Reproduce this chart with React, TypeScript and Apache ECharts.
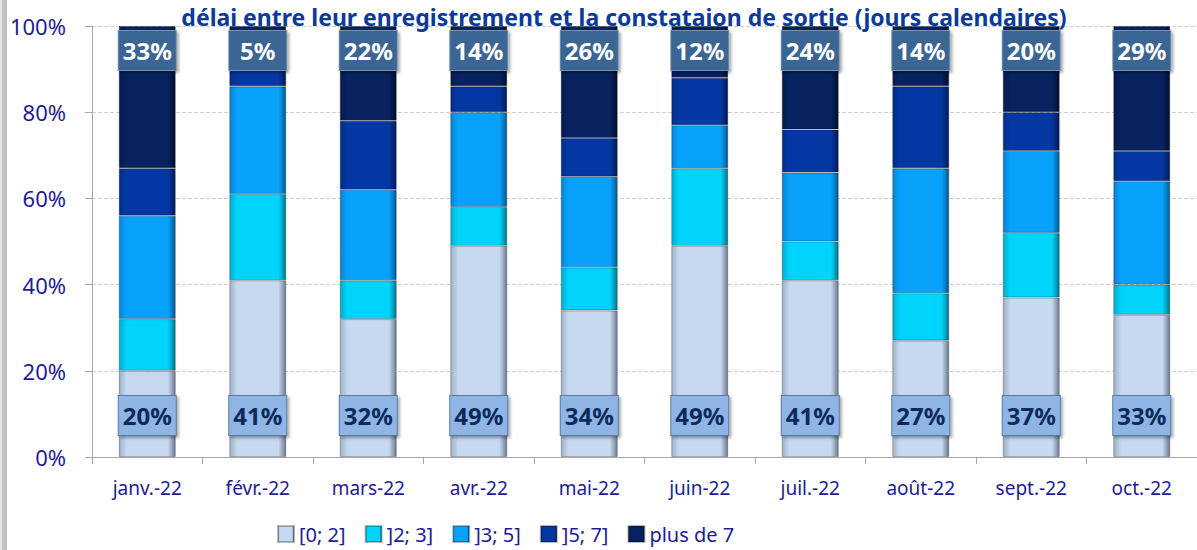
import React, { useEffect, useRef } from "react";
import * as echarts from "echarts";

const categories = ["janv.-22", "févr.-22", "mars-22", "avr.-22", "mai-22", "juin-22", "juil.-22", "août-22", "sept.-22", "oct.-22"];
const seriesNames = ["[0; 2]", "]2; 3]", "]3; 5]", "]5; 7]", "plus de 7"];
const s0to2 = [20, 41, 32, 49, 34, 49, 41, 27, 37, 33];
const s2to3 = [12, 20, 9, 9, 10, 18, 9, 11, 15, 7];
const s3to5 = [24, 25, 21, 22, 21, 10, 16, 29, 19, 24];
const s5to7 = [11, 9, 16, 6, 9, 11, 10, 19, 9, 7];
const sPlus7 = [33, 5, 22, 14, 26, 12, 24, 14, 20, 29];
const yTicks = [0, 20, 40, 60, 80, 100];

const palettes = [
  { l: "#9fb1c9", b: "#c6d9f1", r: "#6c7b90" },
  { l: "#00aed0", b: "#00d4fc", r: "#00788f" },
  { l: "#0585d4", b: "#08a2fd", r: "#035c94" },
  { l: "#032d8a", b: "#0537a3", r: "#021b57" },
  { l: "#061b4e", b: "#08225f", r: "#030f2d" },
];

function grad(p: { l: string; b: string; r: string }) {
  return new echarts.graphic.LinearGradient(0, 0, 1, 0, [
    { offset: 0, color: p.l },
    { offset: 0.13, color: p.b },
    { offset: 0.87, color: p.b },
    { offset: 1, color: p.r },
  ]);
}

const textBlue = "#1c1c9c";
const font = "'Noto Sans', 'DejaVu Sans', sans-serif";

export default function App() {
  const ref = useRef<HTMLDivElement>(null);
  useEffect(() => {
    if (!ref.current) return;
    const chart = echarts.init(ref.current, null, { renderer: "svg" });
    const data = [s0to2, s2to3, s3to5, s5to7, sPlus7];
    const series: any[] = data.map((vals, i) => {
      const s: any = {
        name: seriesNames[i],
        type: "bar",
        stack: "total",
        barWidth: 57,
        data: vals,
        itemStyle: {
          color: grad(palettes[i]),
          borderColor: "rgba(0,0,0,0.28)",
          borderWidth: 1,
        },
        label: { show: false },
      };
      if (i === 0) {
        s.label = {
          show: true,
          position: "insideBottom",
          distance: 22,
          formatter: "{c}%",
          color: "#0d2a5a",
          fontFamily: font,
          fontWeight: "bold",
          fontSize: 24,
          width: 57,
          align: "center",
          lineHeight: 39,
          backgroundColor: "#8fb5e4",
          borderColor: "#5a79a3",
          borderWidth: 1,
          shadowColor: "rgba(0,0,0,0.35)",
          shadowBlur: 3,
          shadowOffsetX: 2,
          shadowOffsetY: 2,
        };
      }
      if (i === 4) {
        s.label = {
          show: true,
          position: "insideTop",
          distance: 5,
          formatter: "{c}%",
          color: "#ffffff",
          fontFamily: font,
          fontWeight: "bold",
          fontSize: 24,
          width: 57,
          align: "center",
          lineHeight: 39,
          backgroundColor: "#3b6593",
          borderColor: "#7592b6",
          borderWidth: 1,
          shadowColor: "rgba(0,0,0,0.35)",
          shadowBlur: 3,
          shadowOffsetX: 2,
          shadowOffsetY: 2,
        };
      }
      return s;
    });

    chart.setOption({
      animation: false,
      title: {
        text: "délai entre leur enregistrement et la constataion de sortie (jours calendaires)",
        left: 619,
        textAlign: "center",
        top: 0,
        textStyle: { color: "#0a3a9c", fontFamily: font, fontWeight: "bold", fontSize: 23, lineHeight: 24 },
      },
      graphic: [
        { type: "rect", shape: { x: 0, y: 0, width: 2, height: 550 }, style: { fill: "#e6e6e6" } },
        { type: "rect", shape: { x: 2, y: 0, width: 5, height: 550 }, style: { fill: "#c2c2c2" } },
      ],
      legend: {
        left: 272,
        top: 519,
        itemWidth: 16,
        itemHeight: 16,
        itemGap: 19,
        icon: "rect",
        textStyle: { color: textBlue, fontFamily: font, fontSize: 20, width: 125 },
        data: seriesNames,
      },
      grid: { left: 92, top: 26, width: 1117, height: 431, containLabel: false },
      xAxis: {
        type: "category",
        data: categories,
        axisLine: { show: true, lineStyle: { color: "#a6a6a6" } },
        axisTick: { show: true, length: 7, lineStyle: { color: "#a6a6a6" } },
        axisLabel: { color: textBlue, fontFamily: font, fontSize: 19, margin: 21 },
      },
      yAxis: {
        type: "value",
        min: 0,
        max: 100,
        interval: 20,
        axisLine: { show: true, lineStyle: { color: "#a6a6a6" } },
        axisTick: { show: true, length: 7, lineStyle: { color: "#a6a6a6" } },
        axisLabel: {
          color: textBlue,
          fontFamily: font,
          fontSize: 22,
          margin: 26,
          formatter: (v: number) => (yTicks.includes(v) ? v + "%" : ""),
        },
        splitLine: { show: true, lineStyle: { color: "#cfcfcf", type: "dashed" } },
      },
      series,
    });
    return () => chart.dispose();
  }, []);
  return <div ref={ref} style={{ width: 1197, height: 550, position: "absolute", left: 0, top: 0 }} />;
}
